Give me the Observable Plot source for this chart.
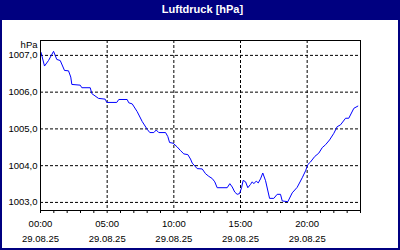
<!DOCTYPE html>
<html><head><meta charset="utf-8">
<script src="https://cdn.jsdelivr.net/npm/d3@7"></script>
<script src="https://cdn.jsdelivr.net/npm/@observablehq/plot@0.6"></script>
<style>
html,body{margin:0;padding:0;background:#fff;}
#wrap{position:relative;width:400px;height:250px;overflow:hidden;background:#fff;font-family:"Liberation Sans",Arial,sans-serif;}
#title{height:20px;background:#000080;color:#fff;font-weight:bold;font-size:11px;line-height:18px;text-align:center;padding-left:5px;box-sizing:border-box;}
#border{position:absolute;left:0;top:0;width:400px;height:250px;border:2px solid #000080;box-sizing:border-box;pointer-events:none;}
#chart svg{display:block;}
</style></head><body>
<div id="wrap"><div id="title">Luftdruck [hPa]</div><div id="chart"></div><div id="border"></div></div>
<script>
const titleText = "Luftdruck [hPa]";
const unit = "hPa";
const dateLabel = "29.08.25";
const yTicks = [1003, 1004, 1005, 1006, 1007];
const xLabelHours = [0, 5, 10, 15, 20];
const hours = [
  0.04, 0.3, 0.6, 0.98, 1.22, 1.48, 1.8, 2.1, 2.27, 2.35,
  2.98, 3.1, 3.73, 3.85, 4.35, 4.85, 4.97, 5.72, 5.87, 6.5,
  6.62, 6.88, 7.25, 7.63, 8.0, 8.2, 8.5, 8.68, 8.87, 9.38,
  9.55, 9.68, 9.95, 10.25, 10.5, 10.75, 11.05, 11.25, 11.38, 11.75,
  12.13, 12.38, 12.62, 12.88, 13.07, 13.25, 14.0, 14.2, 14.38, 14.57,
  14.75, 14.93, 15.08, 15.2, 15.38, 15.55, 15.75, 15.88, 16.0, 16.18,
  16.33, 16.5, 16.67, 16.88, 17.18, 17.5, 17.75, 18.0, 18.13, 18.55,
  18.88, 19.25, 19.63, 19.88, 20.05, 20.25, 20.57, 20.87, 21.13, 21.38,
  21.68, 22.0, 22.25, 22.5, 22.88, 23.12, 23.5, 23.8
];
const pressure = [
  1007.08, 1006.71, 1006.86, 1007.11, 1006.89, 1006.86, 1006.59, 1006.58, 1006.41, 1006.21,
  1006.19, 1006.12, 1006.12, 1005.96, 1005.83, 1005.81, 1005.72, 1005.72, 1005.80, 1005.80,
  1005.71, 1005.68, 1005.47, 1005.20, 1004.99, 1004.90, 1004.90, 1004.97, 1004.90, 1004.90,
  1004.79, 1004.63, 1004.61, 1004.51, 1004.41, 1004.32, 1004.30, 1004.18, 1004.07, 1003.92,
  1003.91, 1003.78, 1003.71, 1003.65, 1003.56, 1003.40, 1003.40, 1003.51, 1003.42, 1003.28,
  1003.22, 1003.24, 1003.40, 1003.60, 1003.56, 1003.40, 1003.49, 1003.56, 1003.51, 1003.58,
  1003.53, 1003.64, 1003.80, 1003.59, 1003.11, 1003.11, 1003.22, 1003.22, 1003.04, 1003.02,
  1003.26, 1003.41, 1003.67, 1003.86, 1004.03, 1004.10, 1004.25, 1004.34, 1004.49, 1004.57,
  1004.70, 1004.88, 1005.06, 1005.11, 1005.29, 1005.29, 1005.56, 1005.62
];

document.getElementById("title").textContent = titleText;
const base = Date.UTC(2025, 7, 29);
const toDate = h => new Date(base + h * 3600e3);
const data = hours.map((h, i) => ({t: toDate(h), v: pressure[i]}));
const hourTicks = d3.range(0, 25).map(toDate);
const labelTicks = xLabelHours.map(toDate);
const fmtTime = d3.utcFormat("%H:%M");
const font = '"Liberation Sans", Arial, sans-serif';

const chart = Plot.plot({
  width: 400, height: 230,
  marginLeft: 40, marginRight: 40, marginTop: 20, marginBottom: 40,
  x: {type: "utc", domain: [toDate(0), toDate(24)]},
  y: {domain: [1002.78, 1007.405]},
  style: {fontFamily: font, fontSize: "9.5px", color: "#000", background: "transparent", overflow: "visible"},
  marks: [
    Plot.gridY(yTicks, {stroke: "#000", strokeOpacity: 1, strokeDasharray: "3,2"}),
    Plot.gridX(labelTicks, {stroke: "#000", strokeOpacity: 1, strokeDasharray: "3,2"}),
    Plot.line(data, {x: "t", y: "v", stroke: "#0000ff", strokeWidth: 1}),
    Plot.frame({stroke: "#000", strokeWidth: 1}),
    Plot.axisX(hourTicks, {tickSize: 3, text: null, label: null, stroke: "#000"}),
    Plot.axisX(labelTicks, {tickSize: 0, tickPadding: 6, label: null, lineHeight: 1.55,
      tickFormat: d => fmtTime(d) + "\n" + dateLabel}),
    Plot.axisY(yTicks, {tickSize: 0, tickPadding: 3, label: null,
      tickFormat: d => d.toFixed(1).replace(".", ",")}),
    Plot.text([unit], {frameAnchor: "top-left", textAnchor: "end", lineAnchor: "middle", dx: -3, dy: 4})
  ]
});
document.getElementById("chart").appendChild(chart);
</script>
</body></html>
